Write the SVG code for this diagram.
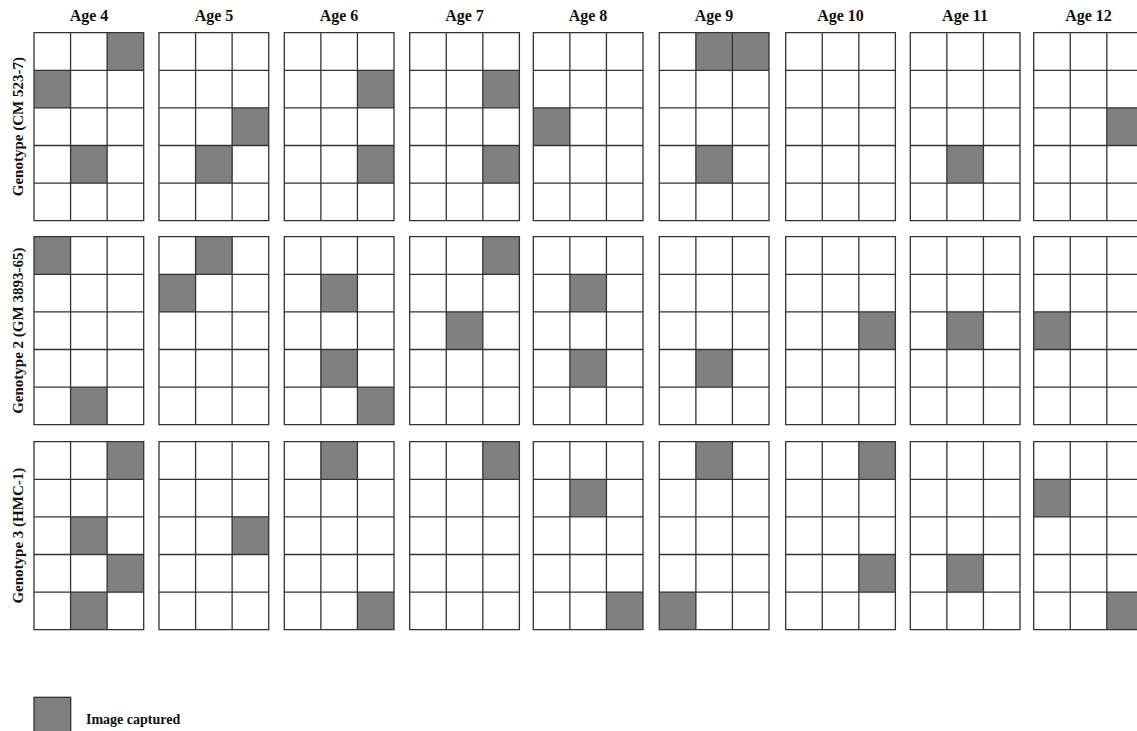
<svg xmlns="http://www.w3.org/2000/svg" xmlns:xlink="http://www.w3.org/1999/xlink" width="1137" height="731" viewBox="0 0 1137 731">
<style>
.t{font-family:"Liberation Serif","Times New Roman",serif;font-weight:bold;fill:#111}
.age{font-size:16px;text-anchor:middle}
.gen{font-size:15px;text-anchor:middle}
.f{fill:#808080;stroke:none}
.grid{fill:none;stroke:#333;stroke-width:1.3}
</style>
<defs>
<path id="grid" class="grid" d="M0 0H109.7V188H0Z M36.57 0V188 M73.13 0V188 M0 37.6H109.7 M0 75.2H109.7 M0 112.8H109.7 M0 150.4H109.7"/>
<rect id="c" class="f" width="36.57" height="37.6"/>
</defs>
<rect width="1137" height="731" fill="#fff"/>
<g id="age-labels">
<text class="t age" x="89" y="21">Age 4</text>
<text class="t age" x="214" y="21">Age 5</text>
<text class="t age" x="339" y="21">Age 6</text>
<text class="t age" x="464.5" y="21">Age 7</text>
<text class="t age" x="588" y="21">Age 8</text>
<text class="t age" x="714" y="21">Age 9</text>
<text class="t age" x="840.5" y="21">Age 10</text>
<text class="t age" x="965" y="21">Age 11</text>
<text class="t age" x="1088.5" y="21">Age 12</text>
</g>
<g id="genotype-labels">
<text class="t gen" transform="translate(22.5,126.7) rotate(-90)">Genotype (CM 523-7)</text>
<text class="t gen" transform="translate(22.5,330.7) rotate(-90)">Genotype 2 (GM 3893-65)</text>
<text class="t gen" transform="translate(22.5,535.7) rotate(-90)">Genotype 3 (HMC-1)</text>
</g>
<g id="connectors"></g>
<!-- Genotype 1 -->
<g id="g1-age4" transform="translate(34,32.7)"><use href="#c" x="73.13" y="0"/><use href="#c" x="0" y="37.6"/><use href="#c" x="36.57" y="112.8"/><use href="#grid"/></g>
<g id="g1-age5" transform="translate(159,32.7)"><use href="#c" x="73.13" y="75.2"/><use href="#c" x="36.57" y="112.8"/><use href="#grid"/></g>
<g id="g1-age6" transform="translate(284.3,32.7)"><use href="#c" x="73.13" y="37.6"/><use href="#c" x="73.13" y="112.8"/><use href="#grid"/></g>
<g id="g1-age7" transform="translate(409.7,32.7)"><use href="#c" x="73.13" y="37.6"/><use href="#c" x="73.13" y="112.8"/><use href="#grid"/></g>
<g id="g1-age8" transform="translate(533.3,32.7)"><use href="#c" x="0" y="75.2"/><use href="#grid"/></g>
<g id="g1-age9" transform="translate(659.3,32.7)"><use href="#c" x="36.57" y="0"/><use href="#c" x="73.13" y="0"/><use href="#c" x="36.57" y="112.8"/><use href="#grid"/></g>
<g id="g1-age10" transform="translate(785.7,32.7)"><use href="#grid"/></g>
<g id="g1-age11" transform="translate(910.3,32.7)"><use href="#c" x="36.57" y="112.8"/><use href="#grid"/></g>
<g id="g1-age12" transform="translate(1033.7,32.7)"><use href="#c" x="73.13" y="75.2"/><use href="#grid"/></g>
<!-- Genotype 2 -->
<g id="g2-age4" transform="translate(34,236.7)"><use href="#c" x="0" y="0"/><use href="#c" x="36.57" y="150.4"/><use href="#grid"/></g>
<g id="g2-age5" transform="translate(159,236.7)"><use href="#c" x="36.57" y="0"/><use href="#c" x="0" y="37.6"/><use href="#grid"/></g>
<g id="g2-age6" transform="translate(284.3,236.7)"><use href="#c" x="36.57" y="37.6"/><use href="#c" x="36.57" y="112.8"/><use href="#c" x="73.13" y="150.4"/><use href="#grid"/></g>
<g id="g2-age7" transform="translate(409.7,236.7)"><use href="#c" x="73.13" y="0"/><use href="#c" x="36.57" y="75.2"/><use href="#grid"/></g>
<g id="g2-age8" transform="translate(533.3,236.7)"><use href="#c" x="36.57" y="37.6"/><use href="#c" x="36.57" y="112.8"/><use href="#grid"/></g>
<g id="g2-age9" transform="translate(659.3,236.7)"><use href="#c" x="36.57" y="112.8"/><use href="#grid"/></g>
<g id="g2-age10" transform="translate(785.7,236.7)"><use href="#c" x="73.13" y="75.2"/><use href="#grid"/></g>
<g id="g2-age11" transform="translate(910.3,236.7)"><use href="#c" x="36.57" y="75.2"/><use href="#grid"/></g>
<g id="g2-age12" transform="translate(1033.7,236.7)"><use href="#c" x="0" y="75.2"/><use href="#grid"/></g>
<!-- Genotype 3 -->
<g id="g3-age4" transform="translate(34,441.7)"><use href="#c" x="73.13" y="0"/><use href="#c" x="36.57" y="75.2"/><use href="#c" x="73.13" y="112.8"/><use href="#c" x="36.57" y="150.4"/><use href="#grid"/></g>
<g id="g3-age5" transform="translate(159,441.7)"><use href="#c" x="73.13" y="75.2"/><use href="#grid"/></g>
<g id="g3-age6" transform="translate(284.3,441.7)"><use href="#c" x="36.57" y="0"/><use href="#c" x="73.13" y="150.4"/><use href="#grid"/></g>
<g id="g3-age7" transform="translate(409.7,441.7)"><use href="#c" x="73.13" y="0"/><use href="#grid"/></g>
<g id="g3-age8" transform="translate(533.3,441.7)"><use href="#c" x="36.57" y="37.6"/><use href="#c" x="73.13" y="150.4"/><use href="#grid"/></g>
<g id="g3-age9" transform="translate(659.3,441.7)"><use href="#c" x="36.57" y="0"/><use href="#c" x="0" y="150.4"/><use href="#grid"/></g>
<g id="g3-age10" transform="translate(785.7,441.7)"><use href="#c" x="73.13" y="0"/><use href="#c" x="73.13" y="112.8"/><use href="#grid"/></g>
<g id="g3-age11" transform="translate(910.3,441.7)"><use href="#c" x="36.57" y="112.8"/><use href="#grid"/></g>
<g id="g3-age12" transform="translate(1033.7,441.7)"><use href="#c" x="0" y="37.6"/><use href="#c" x="73.13" y="150.4"/><use href="#grid"/></g>
<g id="legend">
<rect x="34" y="697.3" width="36.7" height="40" fill="#808080" stroke="#333" stroke-width="1.3"/>
<text class="t" x="86" y="724.3" font-size="14">Image captured</text>
</g>
</svg>
